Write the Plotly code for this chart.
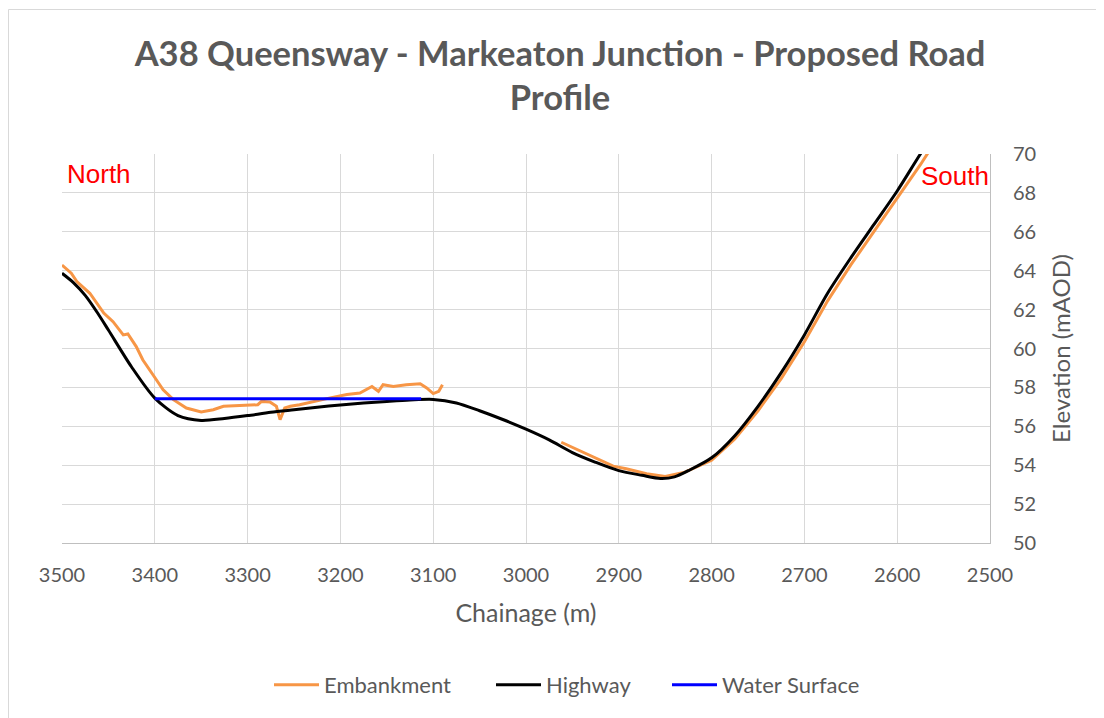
import plotly.graph_objects as go

# ---- data ----
highway_ch = [3500, 3488, 3475, 3462, 3450, 3425, 3400, 3375, 3350, 3325, 3300, 3275, 3250, 3225,
              3200, 3175, 3150, 3125, 3100, 3075, 3050, 3025, 3000, 2975, 2950, 2925,
              2900, 2875, 2855, 2840, 2825, 2800, 2775, 2750, 2725, 2700, 2675, 2650,
              2625, 2600, 2575, 2550]
highway_el = [63.87, 63.40, 62.73, 61.85, 60.95, 59.05, 57.45, 56.55, 56.30, 56.40, 56.55, 56.72, 56.85, 56.98,
              57.10, 57.20, 57.28, 57.35, 57.38, 57.20, 56.80, 56.35, 55.85, 55.30, 54.65, 54.15,
              53.72, 53.48, 53.32, 53.40, 53.72, 54.38, 55.52, 57.03, 58.76, 60.70, 62.84, 64.66,
              66.38, 68.10, 70.00, 71.80]

emb1_ch = [3500, 3490, 3484, 3470, 3455, 3445, 3434, 3429, 3420, 3413, 3402, 3391, 3380,
           3366, 3350, 3337, 3326, 3294, 3289, 3285, 3276, 3269, 3265, 3260, 3254, 3244,
           3229, 3211, 3193, 3179, 3166, 3159, 3154, 3143, 3129, 3114, 3107, 3100, 3094, 3090]
emb1_el = [64.29, 63.87, 63.44, 62.84, 61.82, 61.38, 60.70, 60.75, 60.10, 59.42, 58.65, 57.88, 57.37,
           56.94, 56.74, 56.85, 57.03, 57.08, 57.11, 57.28, 57.25, 57.03, 56.34, 56.94, 57.03, 57.11,
           57.28, 57.46, 57.63, 57.71, 58.05, 57.80, 58.14, 58.05, 58.14, 58.19, 57.97, 57.68, 57.80, 58.14]

emb2_ch = [2962, 2945, 2927, 2906, 2892, 2870, 2850, 2830, 2800, 2775, 2750, 2725, 2700,
           2675, 2650, 2625, 2600, 2575, 2550]
emb2_el = [55.18, 54.80, 54.38, 53.95, 53.82, 53.56, 53.42, 53.62, 54.25, 55.35, 56.80, 58.45, 60.35,
           62.45, 64.30, 66.00, 67.75, 69.45, 71.30]

water_ch = [3400, 3113]
water_el = [57.42, 57.42]

x_ticks = list(range(2500, 3501, 100))
y_ticks = list(range(50, 71, 2))

GRAY = "#595959"
FONT = "Lato"
BODY = 8  # default page body margin in the written html

# plot area in page pixels
PL, PR, PT, PB = 62, 990, 154, 543
W, H = 1104, 718


def px(xp):
    return (xp - PL) / (PR - PL)


def py(yp):
    return (PB - yp) / (PB - PT)


fig = go.Figure()
fig.add_trace(go.Scatter(
    x=emb1_ch + [None] + emb2_ch, y=emb1_el + [None] + emb2_el,
    mode="lines", name="Embankment", connectgaps=False, legendwidth=162,
    line=dict(color="#F79646", width=3)))
fig.add_trace(go.Scatter(
    x=highway_ch, y=highway_el, mode="lines", name="Highway", legendwidth=116,
    line=dict(color="#000000", width=3, shape="spline", smoothing=0.8)))
fig.add_trace(go.Scatter(
    x=water_ch, y=water_el, mode="lines", name="Water Surface",
    line=dict(color="#0000FF", width=3)))

fig.update_layout(
    width=W, height=H,
    margin=dict(l=PL - BODY, r=W - PR + BODY, t=PT - BODY, b=H - PB + BODY),
    paper_bgcolor="white", plot_bgcolor="white",
    font=dict(family=FONT, color=GRAY),
    title=dict(text="A38 Queensway - Markeaton Junction - Proposed Road<br>Profile",
               x=0.5, xref="container", xanchor="center",
               y=1 - (65.5 - BODY) / H, yref="container", yanchor="top",
               font=dict(family=FONT, size=34.5, color=GRAY, weight="bold")),
    xaxis=dict(range=[3500, 2500], tickvals=x_ticks, ticktext=[str(v) for v in x_ticks],
               showgrid=True, gridcolor="#D9D9D9", gridwidth=1,
               showline=True, linecolor="#BFBFBF", linewidth=1,
               zeroline=False, ticks="", ticklabelstandoff=14,
               tickfont=dict(size=20, color=GRAY, family=FONT),
               title=dict(text="Chainage (m)", font=dict(size=25, color=GRAY, family=FONT),
                          standoff=19)),
    yaxis=dict(range=[50, 70], tickvals=y_ticks, side="right",
               showgrid=True, gridcolor="#D9D9D9", gridwidth=1,
               showline=True, linecolor="#BFBFBF", linewidth=1,
               zeroline=False, ticks="", ticklabelstandoff=18,
               tickfont=dict(size=20, color=GRAY, family=FONT),
               title=dict(text="Elevation (mAOD)", font=dict(size=24, color=GRAY, family=FONT),
                          standoff=17)),
    legend=dict(orientation="h", x=px(269), xanchor="left",
                y=py(685), yanchor="middle",
                font=dict(size=22, color=GRAY, family=FONT), itemwidth=45,
                traceorder="normal"),
    showlegend=True,
)

fig.add_annotation(text="North", x=px(65), y=py(174), xref="paper", yref="paper",
                   xanchor="left", yanchor="middle", showarrow=False,
                   font=dict(family="Liberation Sans", size=26, color="#FF0000"))
fig.add_annotation(text="South", x=px(991), y=py(176), xref="paper", yref="paper",
                   xanchor="right", yanchor="middle", showarrow=False,
                   font=dict(family="Liberation Sans", size=26, color="#FF0000"))

# chart border (only the top and left edges fall inside the picture)
fig.add_shape(type="line", xref="paper", yref="paper",
              x0=px(8.5), x1=px(1300), y0=py(9.5), y1=py(9.5),
              line=dict(color="#D9D9D9", width=1), layer="below")
fig.add_shape(type="line", xref="paper", yref="paper",
              x0=px(8.5), x1=px(8.5), y0=py(9.5), y1=py(900),
              line=dict(color="#D9D9D9", width=1), layer="below")

fig.write_html("out.html")
